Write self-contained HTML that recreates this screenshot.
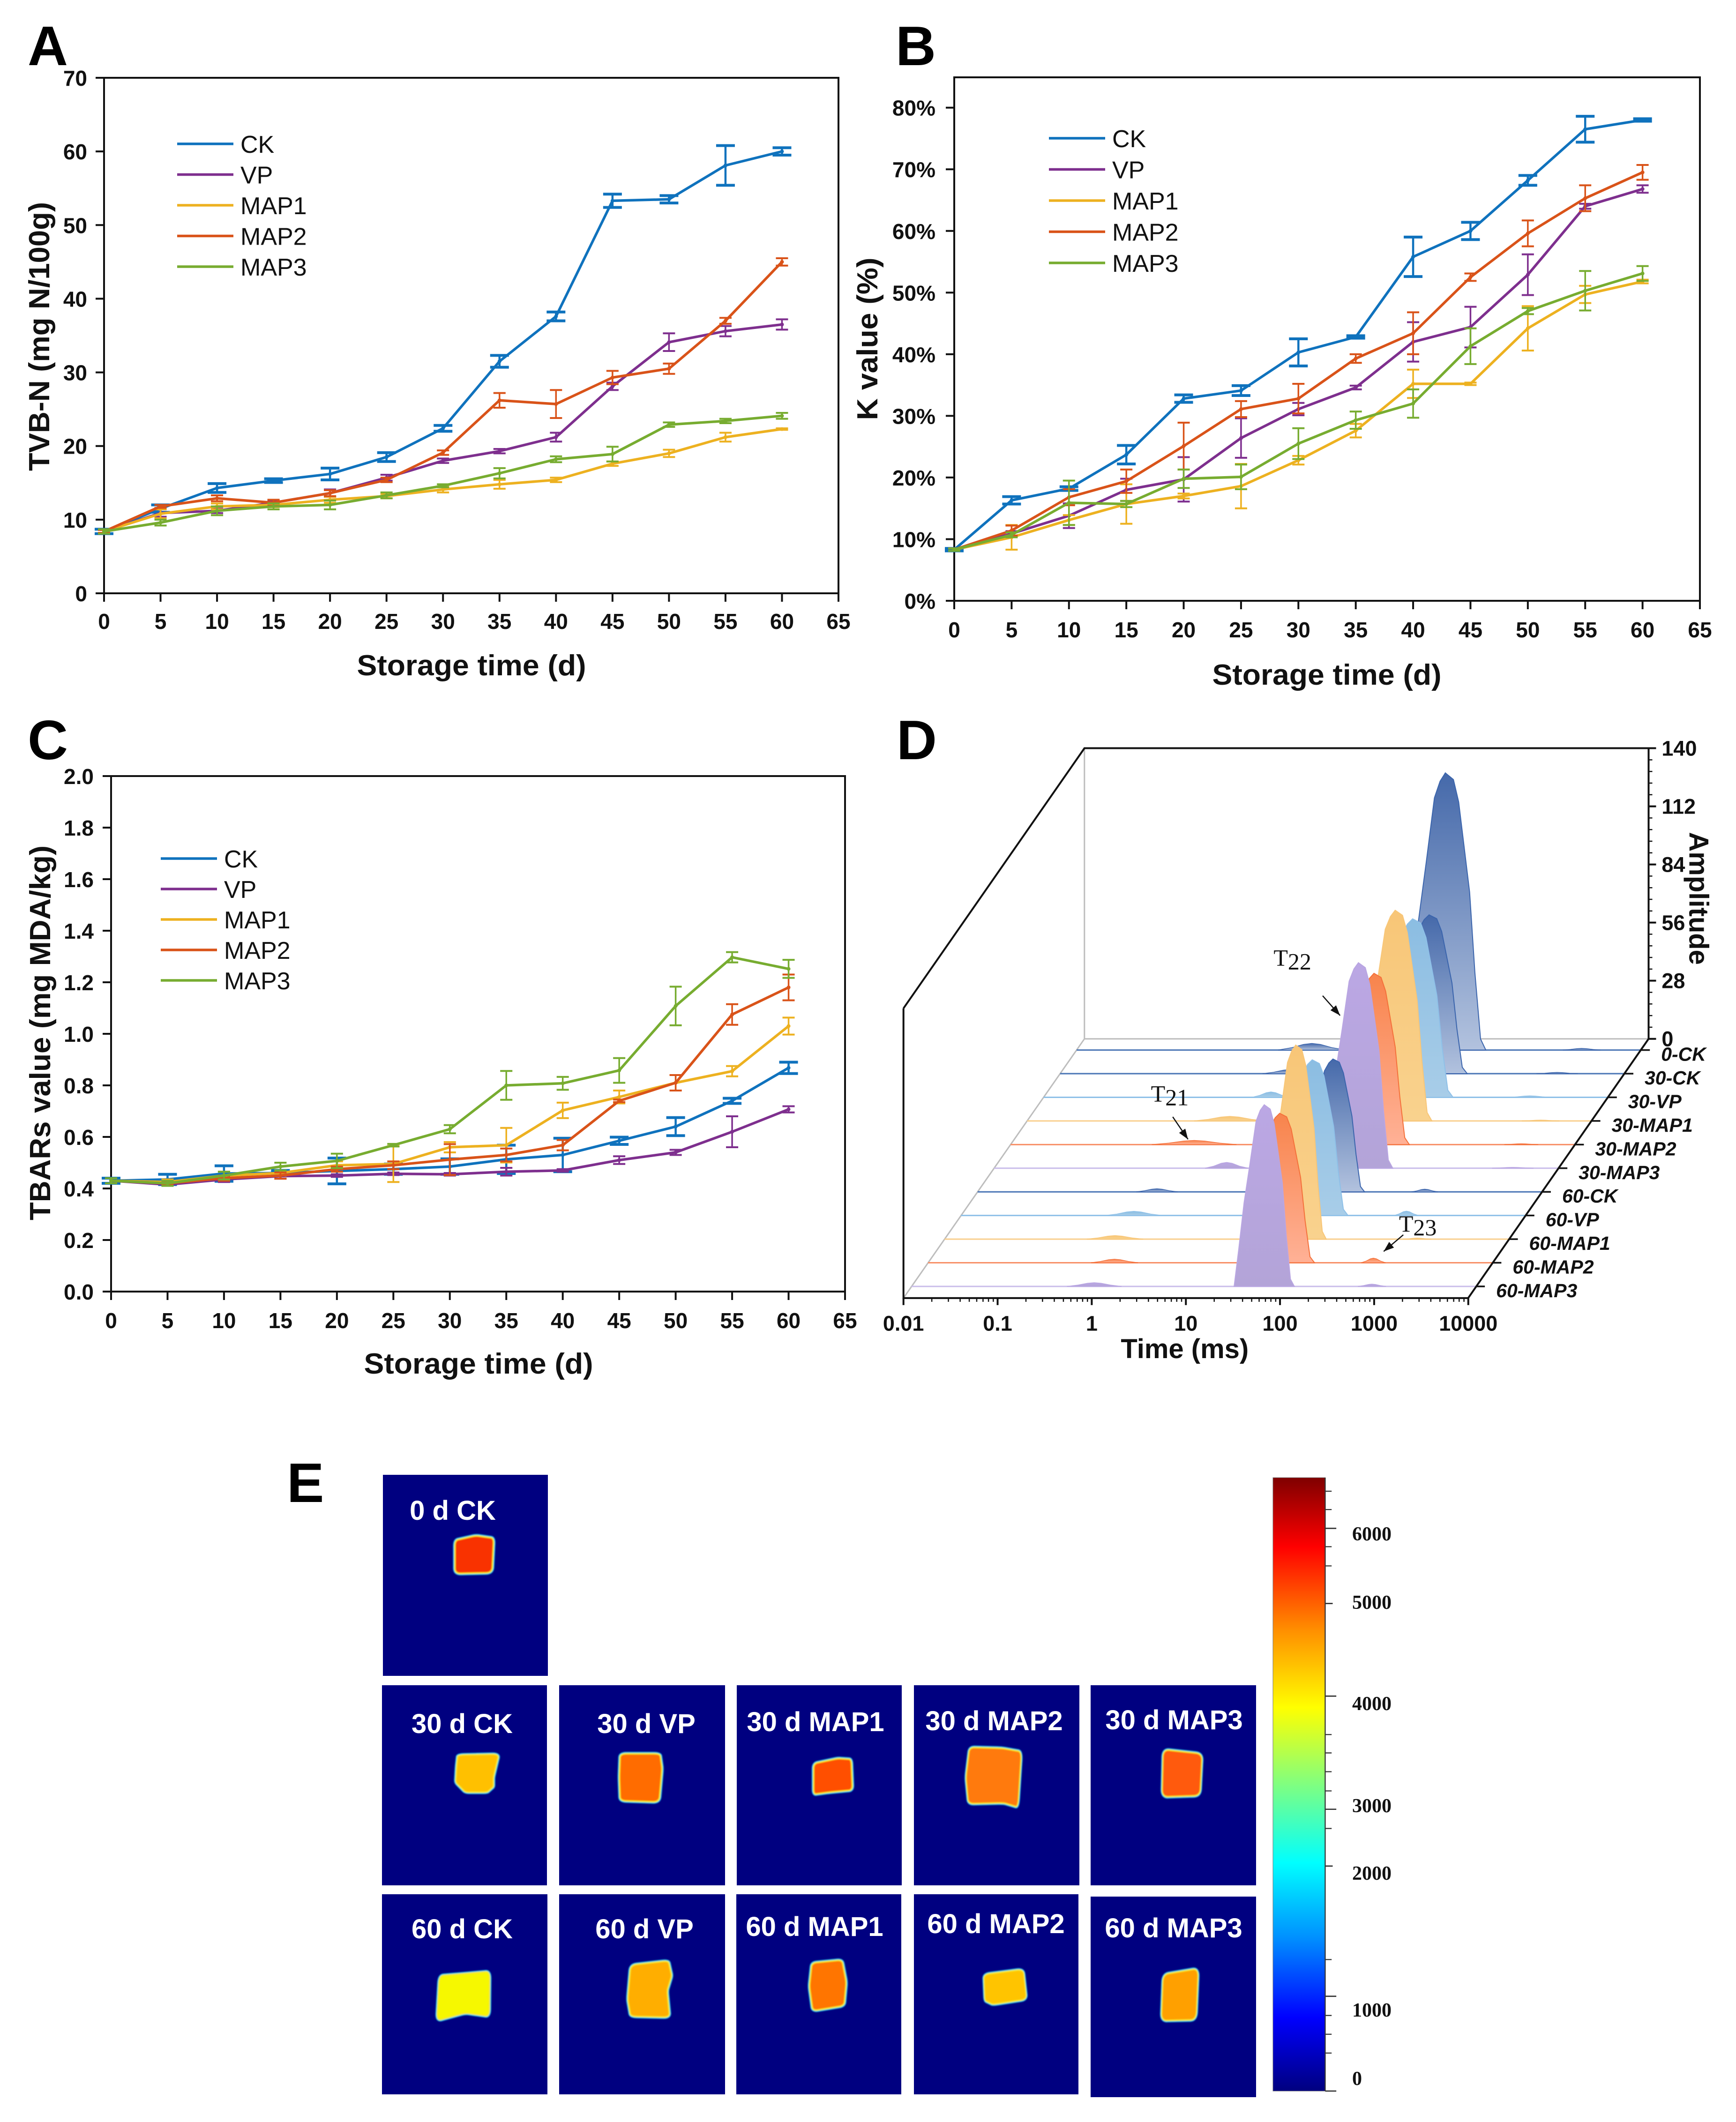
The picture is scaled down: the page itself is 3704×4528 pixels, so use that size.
<!DOCTYPE html>
<html lang="en">
<head>
<meta charset="utf-8">
<title>Storage quality figure</title>
<style>
html,body{margin:0;padding:0;background:#fff;}
svg{display:block;font-family:"Liberation Sans",Arial,sans-serif;}
.letter{font-size:119px;font-weight:700;fill:#000;}
.tile-label{font-size:58px;font-weight:700;fill:#fff;text-anchor:middle;}
.cb{font-family:"Liberation Serif",serif;font-size:42px;font-weight:700;fill:#111;}
</style>
</head>
<body>
<svg id="fig" xmlns="http://www.w3.org/2000/svg" width="3704" height="4528" viewBox="0 0 3704 4528">
<defs>
<linearGradient id="jet" x1="0" y1="1" x2="0" y2="0">
<stop offset="0" stop-color="#00007f"/><stop offset=".12" stop-color="#0000ff"/><stop offset=".25" stop-color="#0090ff"/><stop offset=".372" stop-color="#00ffff"/><stop offset=".5" stop-color="#80ff80"/><stop offset=".625" stop-color="#ffff00"/><stop offset=".75" stop-color="#ff9000"/><stop offset=".887" stop-color="#ff0000"/><stop offset="1" stop-color="#7f0000"/>
</linearGradient>
<linearGradient id="gradCK" x1="0" y1="0" x2="0" y2="1"><stop offset="0" stop-color="#4569aa"/><stop offset="1" stop-color="#b2c2de"/></linearGradient>
<linearGradient id="gradVP" x1="0" y1="0" x2="0" y2="1"><stop offset="0" stop-color="#8bbde2"/><stop offset="1" stop-color="#a8cde8"/></linearGradient>
<linearGradient id="gradM1" x1="0" y1="0" x2="0" y2="1"><stop offset="0" stop-color="#f8c677"/><stop offset="1" stop-color="#f9d28e"/></linearGradient>
<linearGradient id="gradM2" x1="0" y1="0" x2="0" y2="1"><stop offset="0" stop-color="#f8844c"/><stop offset="1" stop-color="#ffb196"/></linearGradient>
<linearGradient id="gradM3" x1="0" y1="0" x2="0" y2="1"><stop offset="0" stop-color="#bba7e4"/><stop offset="1" stop-color="#b3a4d8"/></linearGradient>
<filter id="soft" x="-10%" y="-10%" width="120%" height="120%"><feGaussianBlur stdDeviation="1.6"/></filter>
</defs>
<rect width="3704" height="4528" fill="#fff"/>

<text class="letter" x="59" y="139">A</text>
<text class="letter" x="1911" y="139">B</text>
<text class="letter" x="59" y="1620">C</text>
<text class="letter" x="1913" y="1620">D</text>
<text class="letter" x="612" y="3205">E</text>

<g>
<rect x="817" y="3147" width="352" height="429" fill="#000080"/>
<rect x="815" y="3596" width="352" height="427" fill="#000080"/>
<rect x="1193" y="3596" width="354" height="427" fill="#000080"/>
<rect x="1572" y="3596" width="352" height="427" fill="#000080"/>
<rect x="1950" y="3596" width="353" height="427" fill="#000080"/>
<rect x="2327" y="3596" width="353" height="427" fill="#000080"/>
<rect x="815" y="4042" width="353" height="427" fill="#000080"/>
<rect x="1193" y="4042" width="354" height="427" fill="#000080"/>
<rect x="1571" y="4042" width="352" height="427" fill="#000080"/>
<rect x="1950" y="4042" width="351" height="427" fill="#000080"/>
<rect x="2327" y="4047" width="353" height="428" fill="#000080"/>

<g transform="translate(600 3100) scale(.893 .911)" filter="url(#soft)">
<polygon class="sample" points="415,205 465,194 508,200 504,281 415,283" fill="#f93000"/>
<polygon class="sample" points="422,708 520,706 507,760 507,782 492,795 440,795 417,772 419,735" fill="#ffc000"/>
<polygon class="sample" points="810,705 905,705 910,740 903,818 810,815 808,760" fill="#ff6c00"/>
<polygon class="sample" points="1272,728 1330,716 1362,718 1365,790 1310,795 1272,800" fill="#ff5000"/>
<polygon class="sample" points="378,1225 440,1220 498,1215 497,1320 440,1312 372,1330" fill="#f6f800"/>
<polygon class="sample" points="835,1200 925,1190 933,1225 922,1260 928,1322 835,1320 828,1280" fill="#ffae00"/>
<polygon class="sample" points="1268,1195 1340,1188 1350,1240 1345,1295 1270,1307 1262,1250" fill="#ff7400"/>
</g>
<g transform="translate(1950 3100) scale(.765 .911)" filter="url(#soft)">
<polygon class="sample" points="155,690 245,692 300,700 290,830 250,820 152,822 145,760" fill="#ff7a10"/>
<polygon class="sample" points="695,695 804,705 798,803 692,806" fill="#ff5a0a"/>
<polygon class="sample" points="195,1222 305,1210 314,1280 220,1292 198,1283" fill="#ffc400"/>
<polygon class="sample" points="695,1222 793,1208 787,1328 690,1330" fill="#ffa000"/>
</g>

<text class="tile-label" x="966" y="3243">0 d CK</text>
<text class="tile-label" x="986" y="3698">30 d CK</text>
<text class="tile-label" x="1379" y="3698">30 d VP</text>
<text class="tile-label" x="1740" y="3694">30 d MAP1</text>
<text class="tile-label" x="2121" y="3692">30 d MAP2</text>
<text class="tile-label" x="2505" y="3690">30 d MAP3</text>
<text class="tile-label" x="986" y="4136">60 d CK</text>
<text class="tile-label" x="1375" y="4136">60 d VP</text>
<text class="tile-label" x="1738" y="4131">60 d MAP1</text>
<text class="tile-label" x="2125" y="4125">60 d MAP2</text>
<text class="tile-label" x="2504" y="4134">60 d MAP3</text>
</g>

<g>
<rect x="2716" y="3153" width="111" height="1309" fill="url(#jet)" stroke="#777" stroke-width="1"/>
<g transform="translate(1950 3100) scale(.765 .911)" fill="none" stroke="#333">
<path stroke-width="3" d="M1147 58V1495"/>
<path stroke-width="3" d="M1147 177H1178M1147 570H1178M1147 835H1178M1147 968H1168M1147 1273H1178M1147 1495H1178M1147 353H1168"/>
<path stroke-width="2.5" d="M1147 90H1165M1147 133H1165M1147 220H1165M1147 265H1165M1147 660H1165M1147 703H1165M1147 747H1165M1147 792H1165M1147 880H1165M1147 1187H1165M1147 1318H1165M1147 1362H1165M1147 1406H1165"/>
</g>
<text class="cb" x="2885" y="3287">6000</text>
<text class="cb" x="2885" y="3433">5000</text>
<text class="cb" x="2885" y="3649">4000</text>
<text class="cb" x="2885" y="3867">3000</text>
<text class="cb" x="2885" y="4011">2000</text>
<text class="cb" x="2885" y="4303">1000</text>
<text class="cb" x="2885" y="4449">0</text>
</g>
</svg>
<script>
/* ---------- shared axis data ---------- */
const days=[0,5,10,15,20,25,30,35,40,45,50,55,60];
const xTicks=[0,5,10,15,20,25,30,35,40,45,50,55,60,65];
const seriesNames=['CK','VP','MAP1','MAP2','MAP3'];

/* ---------- panel A: TVB-N ---------- */
const tvbTicks=[0,10,20,30,40,50,60,70];
const tvbTickLabels=['0','10','20','30','40','50','60','70'];
const tvbCK=[8.4,11.5,14.3,15.3,16.2,18.5,22.4,31.5,37.6,53.3,53.5,58.1,60];
const tvbCKErr=[.3,.5,.6,.25,.8,.6,.4,.8,.6,.9,.5,2.7,.5];
const tvbVP=[8.4,10.9,11.2,12.3,13.6,15.7,18,19.3,21.2,28.1,34.1,35.6,36.5];
const tvbVPErr=[.3,.5,.3,.3,.5,.4,.3,.3,.6,.5,1.2,.7,.7];
const tvbMAP1=[8.4,10.8,11.8,12,12.7,13.2,14.1,14.8,15.4,17.6,19,21.2,22.3];
const tvbMAP1Err=[.2,.6,.4,.3,.4,.3,.4,.6,.3,.3,.5,.6,.1];
const tvbMAP2=[8.4,11.8,12.9,12.3,13.6,15.4,19.1,26.2,25.7,29.3,30.5,37,45];
const tvbMAP2Err=[.2,.2,.4,.4,.4,.3,.3,1,1.9,.9,.7,.4,.5];
const tvbMAP3=[8.4,9.6,11.2,11.8,12,13.3,14.6,16.3,18.2,18.9,22.9,23.4,24.1];
const tvbMAP3Err=[.3,.4,.6,.4,.6,.4,.2,.7,.4,1,.3,.3,.4];

/* ---------- panel B: K value ---------- */
const kTicks=[0,10,20,30,40,50,60,70,80];
const kTickLabels=['0%','10%','20%','30%','40%','50%','60%','70%','80%'];
const kCK=[8.3,16.3,18.2,23.7,32.8,34.1,40.3,42.8,55.8,60,68.2,76.5,78];
const kCKErr=[.2,.6,.3,1.5,.6,.8,2.2,.2,3.2,1.4,.8,2.1,.2];
const kVP=[8.3,10.9,13.8,18,19.7,26.4,31.1,34.6,42,44.4,52.9,64,66.8];
const kVPErr=[.2,.4,2,1.8,3.6,3.2,1,.3,3.2,3.3,3.3,.4,.6];
const kMAP1=[8.3,10.3,13.1,15.7,17,18.6,22.8,27.6,35.2,35.2,44.2,49.7,51.8];
const kMAP1Err=[.2,2,.8,3.2,.4,3.6,.7,1.1,2.3,.2,3.6,1.4,.3];
const kMAP2=[8.3,11.4,16.8,19.4,25.1,31.1,32.8,39.3,43.4,52.5,59.6,65.3,69.5];
const kMAP2Err=[.2,.8,1.3,1.9,3.8,1.3,2.4,.7,3.4,.6,2.1,2.1,1.2];
const kMAP3=[8.3,10.7,15.9,15.7,19.8,20.1,25.5,29.3,32,41.3,47,50.3,53.1];
const kMAP3Err=[.2,.4,3.6,.5,1.5,2,2.5,1.4,2.3,2.9,.5,3.2,1.2];

/* ---------- panel C: TBARs ---------- */
const tbaTicks=[0,.2,.4,.6,.8,1,1.2,1.4,1.6,1.8,2];
const tbaTickLabels=['0.0','0.2','0.4','0.6','0.8','1.0','1.2','1.4','1.6','1.8','2.0'];
const tbaCK=[.43,.435,.458,.46,.468,.475,.485,.513,.53,.585,.64,.74,.868];
const tbaCKErr=[.01,.02,.03,.01,.05,.02,.03,.055,.065,.014,.035,.01,.022];
const tbaVP=[.43,.415,.435,.448,.45,.457,.455,.465,.47,.51,.54,.62,.707];
const tbaVPErr=[.01,.005,.01,.01,.005,.005,.005,.015,.005,.015,.01,.06,.012];
const tbaMAP1=[.43,.425,.45,.46,.49,.495,.56,.568,.703,.755,.81,.855,1.03];
const tbaMAP1Err=[.01,.01,.015,.01,.015,.07,.02,.067,.03,.025,.03,.02,.033];
const tbaMAP2=[.43,.42,.44,.45,.475,.49,.512,.53,.568,.74,.81,1.075,1.18];
const tbaMAP2Err=[.01,.005,.01,.012,.01,.015,.06,.025,.02,.005,.03,.04,.05];
const tbaMAP3=[.43,.42,.45,.485,.507,.568,.63,.8,.808,.858,1.108,1.297,1.252];
const tbaMAP3Err=[.01,.01,.015,.015,.028,.005,.016,.056,.025,.048,.075,.02,.035];

/* ---------- panel D: T2 relaxation ridges ---------- */
const ridgeNames=['0-CK','30-CK','30-VP','30-MAP1','30-MAP2','30-MAP3','60-CK','60-VP','60-MAP1','60-MAP2','60-MAP3'];
const ridgeColorKeys=['CK','CK','VP','M1','M2','M3','CK','VP','M1','M2','M3'];
const mainPeakLogT=[1.917,1.92,1.92,1.91,1.86,1.87,1.775,1.73,1.73,1.735,1.746];
const mainPeakAmp=[133.5,76.5,86,101.5,82.5,99,64,75,93.5,72,87.5];
const mainPeakHalfWidth=[.43,.405,.43,.39,.376,.365,.336,.38,.324,.37,.32];
const t21LogT=[.5,.45,.415,.154,-.05,.47,-.095,-.165,-.19,-.02,-.06];
const t21Amp=[3.2,2,2.6,2.2,2,2.8,1.5,2,1.7,1.7,1.8];
const t21HalfWidth=[.36,.3,.2,.38,.45,.23,.22,.3,.3,.25,.29];
const t23LogT=[3.365,3.28,3.165,3.455,3.425,3.51,2.75,2.73,3.02,2.73,2.89];
const t23Amp=[.8,.6,.7,.4,.4,.4,1.3,2.1,.5,2.2,1.1];
const t23HalfWidth=[.2,.22,.22,.2,.18,.22,.14,.13,.15,.13,.15];
const mainShapeOffsets=[-1,-.85,-.67,-.47,-.27,-.13,0,.2,.33,.6,.73,.87,1];
const mainShapeHeights=[0,.2,.46,.68,.91,.97,1,.976,.895,.57,.28,.04,0];
const minorShapeOffsets=[-1,-.6,-.25,0,.25,.6,1];
const minorShapeHeights=[0,.35,.85,1,.85,.35,0];
const ampTicks=[0,28,56,84,112,140];
const ampTickLabels=['0','28','56','84','112','140'];
const timeDecades=[-2,-1,0,1,2,3,4];
const timeTickLabels=['0.01','0.1','1','10','100','1000','10000'];

const svgRoot=document.getElementById('fig');
const NS='http://www.w3.org/2000/svg';
const seriesColors={CK:'#0f72bd',VP:'#7e2f8e',MAP1:'#edb120',MAP2:'#d95319',MAP3:'#77ac30'};

function mk(tag,attrs,parent){
  const el=document.createElementNS(NS,tag);
  for(const k in attrs){el.setAttribute(k,attrs[k]);}
  parent.appendChild(el);
  return el;
}

/* round the corners of the MRI sample outlines and add the cyan/yellow rim */
document.querySelectorAll('polygon.sample').forEach(poly=>{
  const pts=poly.getAttribute('points').trim().split(/\s+/).map(p=>p.split(',').map(Number));
  const n=pts.length;
  const lerp=(a,b,t)=>[a[0]+(b[0]-a[0])*t,a[1]+(b[1]-a[1])*t];
  let d='';
  pts.forEach((p,i)=>{
    const prev=pts[(i+n-1)%n],next=pts[(i+1)%n];
    const a=lerp(p,prev,.16),b=lerp(p,next,.16);
    d+=(i===0?'M':'L')+a[0]+' '+a[1]+'Q'+p[0]+' '+p[1]+' '+b[0]+' '+b[1];
  });
  d+='Z';
  const parent=poly.parentNode;
  const halo=mk('path',{d:d,fill:'#1e90e8',stroke:'#20c8e8','stroke-width':9,'stroke-linejoin':'round'},parent);
  
  
  const body=mk('path',{d:d,fill:poly.getAttribute('fill'),stroke:'#f4e828','stroke-width':3.5,'stroke-linejoin':'round'},parent);
  
  
  parent.removeChild(poly);
});

function drawChart(c){
  const g=mk('g',{},svgRoot);
  
  
  const X=v=>c.left+v/65*(c.right-c.left);
  const Y=v=>c.zeroY-(v-c.yLow)/(c.yRef-c.yLow)*(c.zeroY-c.refY);

  const frame=mk('rect',{x:c.left,y:c.top,width:c.right-c.left,height:c.zeroY-c.top,fill:'none',stroke:'#111','stroke-width':4},g);
  
  

  xTicks.forEach(t=>{
    const tick=mk('line',{x1:X(t),x2:X(t),y1:c.zeroY,y2:c.zeroY+18,stroke:'#111','stroke-width':4},g);
    
    
    const lab=mk('text',{x:X(t),y:c.xLabelY,'font-size':46,'font-weight':700,'text-anchor':'middle',fill:'#111'},g);
    
    
    lab.textContent=t;
  });
  c.yTicks.forEach((t,i)=>{
    const tick=mk('line',{x1:c.left-18,x2:c.left,y1:Y(t),y2:Y(t),stroke:'#111','stroke-width':4},g);
    
    
    const lab=mk('text',{x:c.yLabelX,y:Y(t)+17,'font-size':46,'font-weight':700,'text-anchor':'end',fill:'#111'},g);
    
    
    lab.textContent=c.yTickLabels[i];
  });

  const xt=mk('text',{x:c.xTitleX,y:c.xTitleY,'font-size':62,'font-weight':700,'text-anchor':'middle',fill:'#111',textLength:489,lengthAdjust:'spacingAndGlyphs'},g);
  
  
  xt.textContent='Storage time (d)';
  const yt=mk('text',{x:0,y:0,'font-size':62,'font-weight':700,'text-anchor':'middle',fill:'#111',textLength:c.yTitleLen,lengthAdjust:'spacingAndGlyphs',transform:`translate(${c.yTitleX} ${c.yTitleY}) rotate(-90)`},g);
  
  
  yt.textContent=c.yTitle;

  c.series.forEach((s,si)=>{
    const color=seriesColors[seriesNames[si]];
    const sg=mk('g',{},g);
    
    
    const cap=si===0?20:13;
    const capW=si===0?6:4;
    days.forEach((d,i)=>{
      const x=X(d),hi=Y(s.values[i]+s.errors[i]),lo=Y(s.values[i]-s.errors[i]);
      const bar=mk('path',{d:`M${x} ${hi}V${lo}`,stroke:color,'stroke-width':si===0?4.5:3.5,fill:'none'},sg);
      
      
      const caps=mk('path',{d:`M${x-cap} ${hi}H${x+cap}M${x-cap} ${lo}H${x+cap}`,stroke:color,'stroke-width':capW,fill:'none'},sg);
      
      
    });
    const pts=days.map((d,i)=>X(d)+','+Y(s.values[i])).join(' ');
    const line=mk('polyline',{points:pts,fill:'none',stroke:color,'stroke-width':5.5,'stroke-linejoin':'round'},sg);
    
    
    days.forEach((d,i)=>{
      const dot=mk('circle',{cx:X(d),cy:Y(s.values[i]),r:4,fill:color},sg);
      
      
    });
  });

  const leg=mk('g',{},g);
  
  
  seriesNames.forEach((n,i)=>{
    const y=c.legendY+i*c.legendStep;
    const ln=mk('line',{x1:c.legendX,x2:c.legendX+120,y1:y,y2:y,stroke:seriesColors[n],'stroke-width':5.5},leg);
    
    
    const lt=mk('text',{x:c.legendX+135,y:y+19,'font-size':52,fill:'#111'},leg);
    
    
    lt.textContent=n;
  });
}

drawChart({name:'tvb-n-chart',left:222,right:1789,top:166,zeroY:1266,refY:166,yLow:0,yRef:70,
  yTicks:tvbTicks,yTickLabels:tvbTickLabels,yLabelX:186,xLabelY:1342,xTitleX:1006,xTitleY:1441,
  yTitle:'TVB-N (mg N/100g)',yTitleX:105,yTitleY:718,yTitleLen:574,legendX:378,legendY:307,legendStep:65.5,
  series:[{values:tvbCK,errors:tvbCKErr},{values:tvbVP,errors:tvbVPErr},{values:tvbMAP1,errors:tvbMAP1Err},{values:tvbMAP2,errors:tvbMAP2Err},{values:tvbMAP3,errors:tvbMAP3Err}]});

drawChart({name:'k-value-chart',left:2036,right:3627,top:165,zeroY:1282,refY:229.7,yLow:0,yRef:80,
  yTicks:kTicks,yTickLabels:kTickLabels,yLabelX:1996,xLabelY:1360,xTitleX:2831,xTitleY:1461,
  yTitle:'K value (%)',yTitleX:1872,yTitleY:723,yTitleLen:347,legendX:2238,legendY:295,legendStep:66.5,
  series:[{values:kCK,errors:kCKErr},{values:kVP,errors:kVPErr},{values:kMAP1,errors:kMAP1Err},{values:kMAP2,errors:kMAP2Err},{values:kMAP3,errors:kMAP3Err}]});

drawChart({name:'tbars-chart',left:237,right:1803,top:1656,zeroY:2756,refY:1656,yLow:0,yRef:2,
  yTicks:tbaTicks,yTickLabels:tbaTickLabels,yLabelX:200,xLabelY:2834,xTitleX:1021,xTitleY:2931,
  yTitle:'TBARs value (mg MDA/kg)',yTitleX:107,yTitleY:2204,yTitleLen:800,legendX:343,legendY:1832,legendStep:65,
  series:[{values:tbaCK,errors:tbaCKErr},{values:tbaVP,errors:tbaVPErr},{values:tbaMAP1,errors:tbaMAP1Err},{values:tbaMAP2,errors:tbaMAP2Err},{values:tbaMAP3,errors:tbaMAP3Err}]});

/* ---------- panel D renderer ---------- */
(function(){
  const px=d=>1880+d*1.163;
  const py=d=>1520+d*.957;
  const g=mk('g',{},svgRoot);
  
  
  const ampScale=(728-80)/140;
  const decadeW=172.7;
  const firstBase=753,rowStep=52.7;
  const rowBase=i=>firstBase+i*rowStep;
  const rowDepth=i=>(rowBase(i)-728)/578;
  const rowOffset=i=>41+332*(1-rowDepth(i));
  const T=(lg,i)=>rowOffset(i)+(lg+2)*decadeW;
  const A=(a,i)=>rowBase(i)-a*ampScale;
  const baseStroke={CK:'#4a75b5',VP:'#8ec0e8',M1:'#f9cf8e',M2:'#f88f66',M3:'#c9bdea'};
  const edgeStroke={CK:'#3a64ac',VP:'#8ec0e8',M1:'#f8c677',M2:'#f4703a',M3:'#b9a6e2'};

  const wall=mk('path',{d:`M${px(373)} ${py(80)}V${py(728)}H${px(1408)}M${px(373)} ${py(728)}L${px(41)} ${py(1306)}`,fill:'none',stroke:'#bdbdbd','stroke-width':3},g);
  
  

  const peak=(lg,amp,hw,offs,hts,i)=>offs.map((o,k)=>px(T(lg+o*hw,i))+' '+py(A(amp*hts[k],i)));

  ridgeNames.forEach((name,i)=>{
    const key=ridgeColorKeys[i];
    const rg=mk('g',{},g);
    
    
    const y=py(rowBase(i));
    const xa=px(T(-2,i)),xb=px(T(4,i));
    const base=mk('line',{x1:xa,x2:xb,y1:y,y2:y,stroke:baseStroke[key],'stroke-width':3},rg);
    
    
    const p1=mk('polygon',{points:peak(t21LogT[i],t21Amp[i],t21HalfWidth[i],minorShapeOffsets,minorShapeHeights,i).join(','),fill:`url(#grad${key})`,stroke:edgeStroke[key],'stroke-width':1.5},rg);
    
    
    const p3=mk('polygon',{points:peak(t23LogT[i],t23Amp[i],t23HalfWidth[i],minorShapeOffsets,minorShapeHeights,i).join(','),fill:`url(#grad${key})`,stroke:edgeStroke[key],'stroke-width':1.5},rg);
    
    
    const p2=mk('polygon',{points:peak(mainPeakLogT[i],mainPeakAmp[i],mainPeakHalfWidth[i],mainShapeOffsets,mainShapeHeights,i).join(','),fill:`url(#grad${key})`,stroke:edgeStroke[key],'stroke-width':2},rg);
    
    
    const tick=mk('line',{x1:xb,x2:xb+18,y1:y,y2:y,stroke:'#111','stroke-width':3.5},rg);
    
    
    const lab=mk('text',{x:xb+42,y:y+23,'font-size':41,'font-weight':700,'font-style':'italic',fill:'#111'},rg);
    
    
    lab.textContent=name;
  });

  const edges=mk('path',{d:`M${px(41)} ${py(660)}L${px(373)} ${py(80)}H${px(1408)}V${py(728)}L${px(1077)} ${py(1306)}H${px(41)}V${py(660)}`,fill:'none',stroke:'#111','stroke-width':4,'stroke-linejoin':'miter'},g);
  
  

  const AY=a=>728-a*ampScale;
  ampTicks.forEach((a,i)=>{
    const t=mk('line',{x1:px(1408),x2:px(1408)+16,y1:py(AY(a)),y2:py(AY(a)),stroke:'#111','stroke-width':4},g);
    
    
    const l=mk('text',{x:px(1432),y:py(AY(a))+16,'font-size':45,'font-weight':700,fill:'#111'},g);
    
    
    l.textContent=ampTickLabels[i];
    if(i<ampTicks.length-1){
      for(let k=1;k<5;k++){
        const step=(ampTicks[i+1]-a)/5;
        const m=mk('line',{x1:px(1408),x2:px(1408)+8,y1:py(AY(a+k*step)),y2:py(AY(a+k*step)),stroke:'#111','stroke-width':2.5},g);
        
        
      }
    }
  });

  const FX=lg=>px(41+(lg+2)*decadeW);
  timeDecades.forEach((d,i)=>{
    const t=mk('line',{x1:FX(d),x2:FX(d),y1:py(1306),y2:py(1306)+15,stroke:'#111','stroke-width':4},g);
    
    
    const l=mk('text',{x:FX(d),y:py(1362)+16,'font-size':45,'font-weight':700,'text-anchor':'middle',fill:'#111'},g);
    
    
    l.textContent=timeTickLabels[i];
    if(i<timeDecades.length-1){
      for(let m=2;m<10;m++){
        const mt=mk('line',{x1:FX(d+Math.log10(m)),x2:FX(d+Math.log10(m)),y1:py(1306),y2:py(1306)+8,stroke:'#111','stroke-width':2.5},g);
        
        
      }
    }
  });

  const tt=mk('text',{x:px(557),y:py(1418)+21,'font-size':58,'font-weight':700,'text-anchor':'middle',fill:'#111'},g);
  
  
  tt.textContent='Time (ms)';
  const at=mk('text',{x:0,y:0,'font-size':58,'font-weight':700,'text-anchor':'middle',fill:'#111',transform:`translate(${px(1500)-20} ${py(415)}) rotate(90)`},g);
  
  
  at.textContent='Amplitude';

  const note=(sub,dx,dy,x1,y1,x2,y2)=>{
    const n=mk('text',{x:px(dx),y:py(dy),'font-family':'"Liberation Serif",serif','font-size':50,fill:'#111'},g);
    
    
    n.textContent='T';
    const s=mk('tspan',{dy:8},n);
    s.textContent='2'+sub;
    const ang=Math.atan2(py(y2)-py(y1),px(x2)-px(x1));
    const ex=px(x2),ey=py(y2);
    const ar=mk('line',{x1:px(x1),y1:py(y1),x2:ex,y2:ey,stroke:'#111','stroke-width':2.5},g);
    
    
    const h=22,w=8;
    const bx=ex-h*Math.cos(ang),by=ey-h*Math.sin(ang);
    const head=mk('polygon',{points:`${ex},${ey} ${bx-w*Math.sin(ang)},${by+w*Math.cos(ang)} ${bx+w*Math.sin(ang)},${by-w*Math.cos(ang)}`,fill:'#111'},g);
    
    
  };
  note('2',720,565,810,632,842,676);
  note('1',495,868,535,902,563,952);
  note('3',950,1158,958,1165,922,1202);
})();
</script>
</body>
</html>
